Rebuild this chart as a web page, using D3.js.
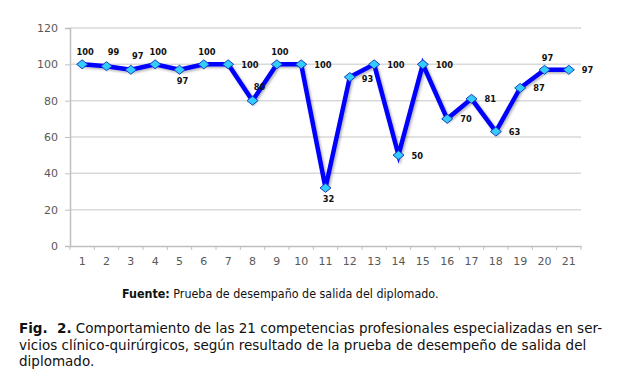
<!DOCTYPE html>
<html>
<head>
<meta charset="utf-8">
<script src="https://cdn.jsdelivr.net/npm/d3@7"></script>
<style>
  body { margin: 0; background: #fff; }
  svg { display: block; }
  .tick text { font-family: "DejaVu Sans", Verdana, sans-serif; font-size: 11px; fill: #595959; }
  .lbl { font-family: "DejaVu Sans", Verdana, sans-serif; font-size: 8.3px; font-weight: bold; fill: #111; }
  .cap { font-family: "DejaVu Sans", Verdana, sans-serif; font-size: 13.5px; fill: #111; white-space: pre; }
  .src { font-family: "DejaVu Sans Condensed", "DejaVu Sans", sans-serif; font-stretch: condensed; font-size: 12.4px; fill: #111; }
</style>
</head>
<body>
<div id="chart"></div>
<script>
var categories = d3.range(1, 22).map(String)
var values = [100, 99, 97, 100, 97, 100, 100, 80, 100, 100, 32, 93, 100, 50, 100, 70, 81, 63, 87, 97, 97]
var yTicks = [0, 20, 40, 60, 80, 100, 120]
// where each data label sits relative to its point
var labelSide = ["up", "upr", "upr", "up", "down", "up", "right", "upr", "up", "right", "down",
  "rightdown", "right", "right", "right", "right", "right", "right", "right", "up", "right"]

var width = 618, height = 389
var margin = { left: 70, right: 37, top: 28, bottom: 143 }

var svg = d3.select('#chart').append('svg')
  .attr("width", width)
  .attr("height", height)

var x = d3.scaleBand()
  .domain(categories)
  .range([margin.left, width - margin.right])

var y = d3.scaleLinear()
  .domain([0, 120])
  .range([height - margin.bottom, margin.top])

// gridlines
svg.append("g")
  .selectAll("line")
  .data(yTicks.filter(function (d) { return d > 0 }))
  .enter().append("line")
  .attr("x1", margin.left)
  .attr("x2", width - margin.right)
  .attr("y1", function (d) { return y(d) })
  .attr("y2", function (d) { return y(d) })
  .attr("stroke", "#d9d9d9")
  .attr("stroke-width", 1.5)

var yAxis = svg.append("g")
  .attr("transform", "translate(" + margin.left + ",0)")
  .call(d3.axisLeft(y).tickValues(yTicks).tickSize(5).tickPadding(7))
yAxis.select(".domain").attr("stroke", "#bfbfbf").attr("stroke-width", 1.5)
yAxis.selectAll(".tick line").attr("stroke", "#bfbfbf")

var xAxis = svg.append("g")
  .attr("transform", "translate(0," + y(0) + ")")
  .call(d3.axisBottom(x).tickSize(0).tickPadding(11))
xAxis.select(".domain").attr("stroke", "#bfbfbf").attr("stroke-width", 1.5)

// boundary ticks between categories
svg.append("g")
  .selectAll("line")
  .data(d3.range(categories.length + 1))
  .enter().append("line")
  .attr("x1", function (i) { return margin.left + i * x.step() })
  .attr("x2", function (i) { return margin.left + i * x.step() })
  .attr("y1", y(0))
  .attr("y2", y(0) + 4)
  .attr("stroke", "#bfbfbf")

var px = function (d, i) { return x(categories[i]) + x.bandwidth() / 2 }

var defs = svg.append("defs")
var f = defs.append("filter").attr("id", "shadow").attr("x", "-20%").attr("y", "-20%")
  .attr("width", "150%").attr("height", "150%")
f.append("feDropShadow").attr("dx", 1.5).attr("dy", 1.5).attr("stdDeviation", 1)
  .attr("flood-color", "#000").attr("flood-opacity", 0.3)

var line = d3.line()
  .x(px)
  .y(function (d) { return y(d) })

svg.append("path")
  .datum(values)
  .attr("d", line)
  .attr("fill", "none")
  .attr("stroke", "#0000ff")
  .attr("stroke-width", 4.5)
  .attr("stroke-linejoin", "miter")
  .attr("filter", "url(#shadow)")

svg.append("g")
  .selectAll("path")
  .data(values)
  .enter().append("path")
  .attr("d", "M0,-4.5L5.5,0L0,4.5L-5.5,0Z")
  .attr("transform", function (d, i) { return "translate(" + px(d, i) + "," + y(d) + ")" })
  .attr("fill", "#33ccff")
  .attr("stroke", "#1a3fbf")
  .attr("stroke-width", 1)

svg.append("g")
  .selectAll("text")
  .data(values)
  .enter().append("text")
  .attr("class", "lbl")
  .each(function (d, i) {
    var s = labelSide[i], t = d3.select(this), cx = px(d, i), cy = y(d)
    if (s == "up") t.attr("x", cx + 3).attr("y", cy - 9).attr("text-anchor", "middle")
    if (s == "upr") t.attr("x", cx + 7).attr("y", cy - 11).attr("text-anchor", "middle")
    if (s == "down") t.attr("x", cx + 3).attr("y", cy + 14).attr("text-anchor", "middle")
    if (s == "right") t.attr("x", cx + 13).attr("y", cy + 3.5).attr("text-anchor", "start")
    if (s == "rightdown") t.attr("x", cx + 12).attr("y", cy + 5).attr("text-anchor", "start")
  })
  .text(function (d) { return d })

var src = svg.append("text").attr("class", "src").attr("x", 122).attr("y", 298)
src.append("tspan").attr("font-weight", "bold").text("Fuente:")
src.append("tspan").text(" Prueba de desempaño de salida del diplomado.")

var capLines = [
  [["Fig.  2.", true], [" Comportamiento de las 21 competencias profesionales especializadas en ser-", false]],
  [["vicios clínico-quirúrgicos, según resultado de la prueba de desempeño de salida del", false]],
  [["diplomado.", false]]
]
capLines.forEach(function (ln, j) {
  var t = svg.append("text").attr("class", "cap").attr("x", 19).attr("y", 333 + j * 16.5)
  ln.forEach(function (p) {
    t.append("tspan").attr("font-weight", p[1] ? "bold" : null).text(p[0])
  })
})
</script>
</body>
</html>
